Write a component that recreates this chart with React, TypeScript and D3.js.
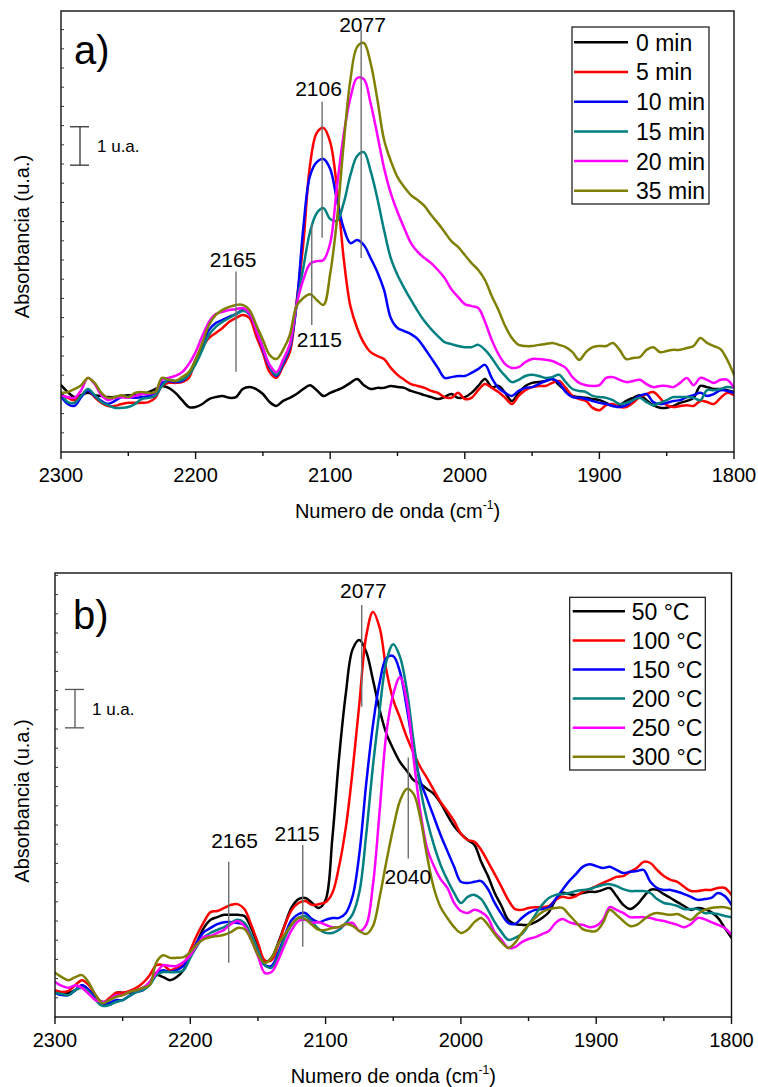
import React from "react";
import * as d3 from "d3";

// ---------- data ----------
const wavenumbers = [
  2300, 2295, 2290, 2285, 2280, 2275, 2270, 2265, 2260, 2255,
  2250, 2245, 2240, 2235, 2230, 2225, 2220, 2215, 2210, 2205,
  2200, 2195, 2190, 2185, 2180, 2175, 2170, 2165, 2160, 2155,
  2150, 2145, 2140, 2135, 2130, 2125, 2120, 2115, 2110, 2105,
  2100, 2095, 2090, 2085, 2080, 2075, 2070, 2065, 2060, 2055,
  2050, 2045, 2040, 2035, 2030, 2025, 2020, 2015, 2010, 2005,
  2000, 1995, 1990, 1985, 1980, 1975, 1970, 1965, 1960, 1955,
  1950, 1945, 1940, 1935, 1930, 1925, 1920, 1915, 1910, 1905,
  1900, 1895, 1890, 1885, 1880, 1875, 1870, 1865, 1860, 1855,
  1850, 1845, 1840, 1835, 1830, 1825, 1820, 1815, 1810, 1805,
  1800,
];

const labelsA = ["0 min", "5 min", "10 min", "15 min", "20 min", "35 min"];
const labelsB = ["50 °C", "100 °C", "150 °C", "200 °C", "250 °C", "300 °C"];
const seriesColors = ["#000000", "#ff0000", "#0000ff", "#008080", "#ff00ff", "#808000"];

const xMajorTicks = [2300, 2200, 2100, 2000, 1900, 1800];
const xMinorTicks = [2250, 2150, 2050, 1950, 1850];

// panel a) absorbance (u.a.)
const absA0 = [
  1.74, 1.56, 1.43, 1.48, 1.54, 1.48, 1.46, 1.43, 1.43, 1.46,
  1.48, 1.48, 1.51, 1.56, 1.64, 1.72, 1.67, 1.54, 1.35, 1.17,
  1.17, 1.25, 1.38, 1.43, 1.46, 1.41, 1.43, 1.64, 1.69, 1.64,
  1.51, 1.30, 1.20, 1.33, 1.41, 1.51, 1.64, 1.74, 1.61, 1.46,
  1.54, 1.61, 1.69, 1.80, 1.90, 1.74, 1.64, 1.67, 1.67, 1.72,
  1.69, 1.67, 1.59, 1.54, 1.48, 1.43, 1.38, 1.43, 1.51, 1.41,
  1.43, 1.54, 1.72, 1.90, 1.69, 1.72, 1.54, 1.33, 1.54, 1.72,
  1.80, 1.82, 1.85, 1.90, 1.74, 1.59, 1.46, 1.43, 1.41, 1.38,
  1.35, 1.28, 1.20, 1.22, 1.33, 1.41, 1.48, 1.35, 1.22, 1.15,
  1.15, 1.20, 1.28, 1.33, 1.41, 1.72, 1.69, 1.64, 1.64, 1.61,
  1.56,
];
const absA5 = [
  1.48, 1.41, 1.35, 1.46, 1.61, 1.43, 1.28, 1.20, 1.20, 1.25,
  1.28, 1.28, 1.28, 1.30, 1.41, 1.72, 1.80, 1.80, 1.82, 1.93,
  2.40, 2.73, 2.97, 3.10, 3.23, 3.39, 3.49, 3.57, 3.49, 3.02,
  2.58, 2.08, 1.93, 2.24, 2.60, 3.91, 5.42, 7.47, 8.31, 8.44,
  8.07, 6.88, 5.05, 3.80, 3.23, 2.84, 2.60, 2.50, 2.42, 2.19,
  2.01, 1.88, 1.77, 1.72, 1.67, 1.59, 1.54, 1.43, 1.41, 1.54,
  1.38, 1.41, 1.61, 1.77, 1.67, 1.56, 1.41, 1.25, 1.46, 1.61,
  1.69, 1.72, 1.72, 1.80, 1.85, 1.67, 1.46, 1.38, 1.33, 1.15,
  1.09, 1.22, 1.25, 1.17, 1.17, 1.28, 1.43, 1.51, 1.56, 1.41,
  1.22, 1.17, 1.20, 1.22, 1.20, 1.33, 1.30, 1.25, 1.41, 1.54,
  1.48,
];
const absA10 = [
  1.46, 1.25, 1.20, 1.43, 1.61, 1.46, 1.33, 1.25, 1.33, 1.43,
  1.43, 1.41, 1.43, 1.46, 1.54, 1.80, 1.85, 1.82, 1.85, 2.03,
  2.40, 2.76, 3.18, 3.36, 3.44, 3.52, 3.59, 3.70, 3.59, 3.18,
  2.66, 2.21, 1.98, 2.29, 2.71, 3.83, 5.83, 7.19, 7.55, 7.63,
  7.37, 6.56, 5.83, 5.44, 5.52, 5.39, 5.05, 4.69, 4.22, 3.49,
  3.23, 3.15, 3.07, 2.94, 2.71, 2.45, 2.19, 1.93, 1.95, 1.98,
  1.98, 2.06, 2.16, 2.27, 1.93, 1.67, 1.54, 1.46, 1.59, 1.67,
  1.69, 1.77, 1.85, 1.90, 1.80, 1.56, 1.43, 1.41, 1.38, 1.33,
  1.28, 1.25, 1.20, 1.17, 1.22, 1.35, 1.46, 1.51, 1.30, 1.25,
  1.28, 1.33, 1.35, 1.43, 1.48, 1.54, 1.46, 1.51, 1.61, 1.59,
  1.54,
];
const absA15 = [
  1.54, 1.30, 1.28, 1.46, 1.64, 1.48, 1.30, 1.22, 1.15, 1.15,
  1.17, 1.25, 1.38, 1.41, 1.46, 1.72, 1.88, 1.85, 1.88, 2.01,
  2.29, 2.66, 3.05, 3.26, 3.39, 3.49, 3.59, 3.67, 3.62, 3.23,
  2.71, 2.24, 2.01, 2.34, 2.76, 3.83, 4.79, 5.73, 6.22, 6.35,
  6.07, 6.02, 6.48, 7.21, 7.71, 7.81, 7.32, 6.61, 5.78, 5.05,
  4.61, 4.27, 3.96, 3.67, 3.41, 3.20, 3.02, 2.86, 2.81, 2.76,
  2.73, 2.73, 2.79, 2.66, 2.45, 2.19, 1.98, 1.82, 1.88, 1.98,
  2.01, 1.98, 1.93, 1.95, 2.01, 1.82, 1.64, 1.59, 1.56, 1.46,
  1.43, 1.41, 1.35, 1.25, 1.28, 1.35, 1.41, 1.30, 1.22, 1.28,
  1.35, 1.43, 1.43, 1.43, 1.41, 1.35, 1.61, 1.61, 1.64, 1.69,
  1.67,
];
const absA20 = [
  1.48, 1.43, 1.41, 1.61, 1.93, 1.77, 1.48, 1.35, 1.41, 1.43,
  1.41, 1.46, 1.51, 1.51, 1.56, 1.88, 1.93, 1.98, 2.08, 2.29,
  2.60, 3.02, 3.39, 3.59, 3.65, 3.70, 3.72, 3.75, 3.62, 3.18,
  2.71, 2.27, 2.08, 2.40, 2.81, 3.83, 4.48, 4.90, 4.97, 5.00,
  5.44, 6.90, 8.26, 9.22, 9.74, 9.71, 9.09, 8.26, 7.40, 6.74,
  6.25, 5.83, 5.44, 5.21, 5.05, 4.92, 4.74, 4.53, 4.24, 4.04,
  3.85, 3.80, 3.75, 3.39, 2.92, 2.55, 2.29, 2.19, 2.21, 2.34,
  2.42, 2.42, 2.40, 2.37, 2.29, 2.19, 1.95, 1.80, 1.74, 1.72,
  1.74, 1.93, 1.95, 1.88, 1.82, 1.85, 1.88, 1.77, 1.69, 1.72,
  1.72, 1.69, 1.80, 1.93, 1.74, 1.93, 1.88, 1.80, 1.88, 1.88,
  1.67,
];
const absA35 = [
  1.54, 1.56, 1.64, 1.74, 1.93, 1.80, 1.54, 1.41, 1.43, 1.48,
  1.43, 1.54, 1.56, 1.54, 1.56, 1.93, 1.88, 1.85, 1.95, 2.08,
  2.40, 2.84, 3.31, 3.57, 3.70, 3.78, 3.83, 3.83, 3.70, 3.31,
  2.92, 2.53, 2.42, 2.66, 3.05, 3.80, 4.01, 4.11, 3.96, 3.83,
  4.64, 6.04, 8.02, 9.69, 10.55, 10.65, 10.13, 9.19, 8.13, 7.58,
  7.16, 6.90, 6.69, 6.56, 6.41, 6.17, 5.96, 5.73, 5.49, 5.34,
  5.13, 4.92, 4.74, 4.48, 4.06, 3.70, 3.28, 2.97, 2.79, 2.76,
  2.76, 2.79, 2.81, 2.84, 2.79, 2.73, 2.60, 2.40, 2.60, 2.73,
  2.76, 2.76, 2.84, 2.66, 2.42, 2.45, 2.47, 2.66, 2.73, 2.60,
  2.63, 2.66, 2.66, 2.71, 2.76, 2.97, 2.84, 2.76, 2.68, 2.40,
  2.01,
];

// panel b) absorbance (u.a.)
const absB50 = [
  0.65, 0.63, 0.63, 0.70, 0.83, 0.70, 0.52, 0.39, 0.44, 0.63,
  0.63, 0.63, 0.68, 0.76, 0.89, 1.09, 1.04, 0.96, 1.04, 1.22,
  1.61, 1.95, 2.32, 2.53, 2.60, 2.66, 2.66, 2.66, 2.63, 2.32,
  1.88, 1.43, 1.54, 1.93, 2.42, 2.86, 3.07, 3.10, 2.97, 2.84,
  3.05, 4.66, 6.77, 8.44, 9.58, 9.82, 9.51, 8.78, 7.99, 7.37,
  6.98, 6.64, 6.41, 6.17, 6.07, 5.94, 5.81, 5.57, 5.26, 4.97,
  4.77, 4.61, 4.48, 4.04, 3.67, 3.23, 2.89, 2.53, 2.42, 2.40,
  2.40, 2.47, 2.58, 2.73, 3.05, 3.23, 3.20, 3.18, 3.23, 3.26,
  3.26, 3.31, 3.36, 3.15, 2.92, 2.81, 2.92, 3.13, 3.31, 3.31,
  3.20, 3.10, 2.99, 2.89, 2.79, 2.84, 2.81, 2.73, 2.58, 2.32,
  2.06,
];
const absB100 = [
  0.70, 0.65, 0.68, 0.83, 0.96, 0.83, 0.57, 0.36, 0.49, 0.63,
  0.63, 0.68, 0.76, 0.89, 1.09, 1.35, 1.35, 1.22, 1.28, 1.38,
  1.74, 2.14, 2.47, 2.73, 2.76, 2.84, 2.92, 2.94, 2.81, 2.40,
  1.93, 1.48, 1.48, 1.88, 2.40, 2.79, 2.97, 3.02, 2.92, 2.94,
  2.99, 3.23, 3.93, 4.95, 6.43, 8.18, 9.92, 10.55, 10.13, 9.01,
  8.26, 7.79, 7.29, 6.88, 6.51, 6.22, 5.91, 5.60, 5.36, 5.10,
  4.77, 4.61, 4.56, 4.35, 4.04, 3.72, 3.39, 3.05, 2.81, 2.79,
  2.84, 2.86, 2.86, 2.89, 3.05, 3.13, 3.10, 3.15, 3.26, 3.33,
  3.41, 3.49, 3.57, 3.65, 3.67, 3.78, 3.88, 4.04, 4.01, 3.83,
  3.67, 3.57, 3.52, 3.39, 3.28, 3.28, 3.31, 3.31, 3.36, 3.36,
  3.18,
];
const absB150 = [
  0.63, 0.57, 0.57, 0.70, 0.83, 0.70, 0.49, 0.31, 0.36, 0.44,
  0.44, 0.55, 0.65, 0.70, 0.91, 1.15, 1.22, 1.17, 1.22, 1.33,
  1.61, 1.95, 2.21, 2.32, 2.42, 2.47, 2.47, 2.45, 2.40, 2.08,
  1.67, 1.35, 1.33, 1.67, 2.14, 2.53, 2.68, 2.71, 2.55, 2.47,
  2.53, 2.58, 2.58, 2.71, 3.15, 4.27, 6.07, 7.60, 8.72, 9.35,
  9.40, 8.98, 8.05, 6.98, 6.15, 5.68, 5.21, 4.74, 4.32, 3.91,
  3.52, 3.49, 3.52, 3.54, 3.33, 2.97, 2.68, 2.45, 2.42, 2.58,
  2.71, 2.79, 2.81, 2.86, 3.07, 3.31, 3.54, 3.72, 3.91, 3.98,
  3.93, 3.88, 3.91, 3.83, 3.75, 3.78, 3.80, 3.83, 3.52, 3.36,
  3.31, 3.31, 3.26, 3.20, 3.13, 3.05, 3.07, 3.10, 3.23, 3.15,
  2.92,
];
const absB200 = [
  0.63, 0.60, 0.57, 0.70, 0.76, 0.65, 0.44, 0.29, 0.31, 0.39,
  0.44, 0.55, 0.65, 0.70, 0.83, 1.09, 1.17, 1.17, 1.17, 1.22,
  1.54, 1.85, 2.08, 2.19, 2.27, 2.34, 2.45, 2.53, 2.45, 2.14,
  1.74, 1.35, 1.28, 1.59, 2.08, 2.40, 2.58, 2.63, 2.47, 2.29,
  2.19, 2.19, 2.27, 2.45, 2.68, 3.26, 4.74, 6.54, 8.02, 9.27,
  9.71, 9.38, 8.52, 7.19, 5.96, 5.13, 4.48, 3.96, 3.57, 3.23,
  2.97, 3.13, 3.18, 3.07, 2.79, 2.47, 2.21, 2.01, 2.06, 2.16,
  2.40, 2.66, 2.92, 3.10, 3.18, 3.20, 3.23, 3.28, 3.31, 3.33,
  3.39, 3.44, 3.46, 3.41, 3.33, 3.28, 3.28, 3.28, 3.23, 3.07,
  2.97, 2.94, 2.89, 2.81, 2.81, 2.81, 2.71, 2.71, 2.68, 2.63,
  2.60,
];
const absB250 = [
  0.91, 0.81, 0.76, 0.83, 0.76, 0.60, 0.44, 0.39, 0.44, 0.57,
  0.57, 0.65, 0.70, 0.76, 0.91, 1.15, 1.35, 1.33, 1.33, 1.43,
  1.61, 1.88, 2.08, 2.11, 2.19, 2.27, 2.42, 2.50, 2.37, 2.01,
  1.59, 1.15, 1.17, 1.48, 1.90, 2.27, 2.50, 2.53, 2.45, 2.47,
  2.40, 2.34, 2.34, 2.42, 2.45, 2.24, 2.40, 3.44, 5.39, 7.42,
  8.41, 8.85, 8.23, 6.74, 5.36, 4.40, 3.93, 3.59, 3.36, 2.97,
  2.76, 2.71, 2.79, 2.73, 2.58, 2.21, 2.01, 1.80, 1.82, 1.95,
  2.03, 2.08, 2.16, 2.24, 2.45, 2.55, 2.47, 2.42, 2.40, 2.34,
  2.37, 2.53, 2.86, 2.79, 2.71, 2.60, 2.60, 2.60, 2.58, 2.53,
  2.50, 2.45, 2.40, 2.34, 2.42, 2.58, 2.55, 2.47, 2.40, 2.32,
  2.14,
];
const absB300 = [
  1.15, 1.04, 0.96, 1.04, 1.09, 0.89, 0.57, 0.36, 0.44, 0.52,
  0.57, 0.65, 0.70, 0.76, 0.83, 1.43, 1.61, 1.54, 1.54, 1.56,
  1.69, 1.90, 2.03, 2.08, 2.11, 2.14, 2.21, 2.32, 2.29, 2.01,
  1.61, 1.41, 1.54, 1.90, 2.16, 2.42, 2.58, 2.55, 2.40, 2.27,
  2.27, 2.32, 2.34, 2.42, 2.37, 2.24, 2.16, 2.37, 3.13, 4.06,
  4.92, 5.63, 5.94, 5.81, 5.18, 4.19, 3.36, 2.86, 2.58, 2.34,
  2.19, 2.27, 2.47, 2.58, 2.40, 2.16, 1.95, 1.80, 1.93, 2.19,
  2.40, 2.58, 2.73, 2.81, 2.84, 2.84, 2.66, 2.47, 2.29, 2.24,
  2.24, 2.45, 2.79, 2.66, 2.50, 2.37, 2.40, 2.53, 2.66, 2.71,
  2.68, 2.66, 2.68, 2.60, 2.53, 2.68, 2.79, 2.84, 2.86, 2.86,
  2.81,
];

// peak annotations: label, wavenumber of marker line, marker extent (u.a.), label anchor
const annotationsA = [
  { label: "2077", w: 2077, v0: 5.05, v1: 10.99, tw: 2076, tv: 10.94 },
  { label: "2106", w: 2106, v0: 5.58, v1: 9.12, tw: 2108.7, tv: 9.26 },
  { label: "2165", w: 2170, v0: 2.09, v1: 4.7, tw: 2172.2, tv: 4.82 },
  { label: "2115", w: 2113.7, v0: 3.31, v1: 5.93, tw: 2108.1, tv: 2.74 },
];
const annotationsB = [
  { label: "2077", w: 2073.3, v0: 8.08, v1: 10.73, tw: 2072.1, tv: 10.9 },
  { label: "2165", w: 2171.6, v0: 1.41, v1: 4.04, tw: 2167.3, tv: 4.39 },
  { label: "2115", w: 2116.9, v0: 1.83, v1: 4.48, tw: 2121.1, tv: 4.58 },
  { label: "2040", w: 2038.9, v0: 4.13, v1: 6.76, tw: 2039.2, tv: 3.46 },
];

// ---------- layout ----------
const FONT = "'Liberation Sans', Arial, Helvetica, sans-serif";

type Ann = { label: string; w: number; v0: number; v1: number; tw: number; tv: number };
type PanelCfg = {
  id: string;
  tag: string;
  left: number;
  right: number;
  top: number;
  bottom: number;
  yMax: number;
  series: number[][];
  labels: string[];
  annotations: Ann[];
  barX: number;
  barV0: number;
  barColor: string;
  lineColor: string;
  legend: { x: number; y: number; w: number; h: number; row0: number; step: number; lx0: number; lx1: number; tx: number };
  tagX: number;
  tagY: number;
  yTitleY: number;
};

const panelA: PanelCfg = {
  id: "a",
  tag: "a)",
  left: 61,
  right: 734,
  top: 11,
  bottom: 452,
  yMax: 441 / 38.4,
  series: [absA0, absA5, absA10, absA15, absA20, absA35],
  labels: labelsA,
  annotations: annotationsA,
  barX: 80,
  barV0: 7.47,
  barColor: "#333",
  lineColor: "#6e6e6e",
  legend: { x: 572, y: 27, w: 137, h: 177, row0: 42.3, step: 29.7, lx0: 574, lx1: 628, tx: 636 },
  tagX: 74,
  tagY: 64,
  yTitleY: 236.5,
};

const panelB: PanelCfg = {
  id: "b",
  tag: "b)",
  left: 55,
  right: 731.5,
  top: 573,
  bottom: 1017,
  yMax: 444 / 38.4,
  series: [absB50, absB100, absB150, absB200, absB250, absB300],
  labels: labelsB,
  annotations: annotationsB,
  barX: 75,
  barV0: 7.53,
  barColor: "#555",
  lineColor: "#6e6e6e",
  legend: { x: 569.7, y: 597.3, w: 135.6, h: 172.7, row0: 611.3, step: 29.1, lx0: 572.7, lx1: 625, tx: 631.7 },
  tagX: 73,
  tagY: 629.3,
  yTitleY: 801,
};

function Panel({ cfg }: { cfg: PanelCfg }) {
  const x = d3.scaleLinear().domain([2300, 1800]).range([cfg.left, cfg.right]);
  const y = d3.scaleLinear().domain([0, cfg.yMax]).range([cfg.bottom, cfg.top]);
  const line = d3
    .line<number>()
    .x((_, i) => x(wavenumbers[i]))
    .y((d) => y(d))
    .curve(d3.curveCatmullRom.alpha(0.5));
  const yTicks = d3.range(0.5, cfg.yMax, 0.5);
  const clipId = `clip-${cfg.id}`;
  const lg = cfg.legend;
  const midX = (cfg.left + cfg.right) / 2;

  return (
    <g>
      <defs>
        <clipPath id={clipId}>
          <rect x={cfg.left} y={cfg.top} width={cfg.right - cfg.left} height={cfg.bottom - cfg.top} />
        </clipPath>
      </defs>

      {/* curves */}
      <g clipPath={`url(#${clipId})`}>
        {cfg.series.map((s, i) => (
          <path
            key={i}
            d={line(s) || ""}
            fill="none"
            stroke={seriesColors[i]}
            strokeWidth={2.5}
            strokeLinejoin="round"
            strokeLinecap="round"
          />
        ))}
      </g>

      {/* peak markers */}
      {cfg.annotations.map((a) => (
        <g key={a.label}>
          <line x1={x(a.w)} x2={x(a.w)} y1={y(a.v0)} y2={y(a.v1)} stroke={cfg.lineColor} strokeWidth={1.4} />
          <text x={x(a.tw)} y={y(a.tv)} textAnchor="middle" fontFamily={FONT} fontSize={21} fill="#000">
            {a.label}
          </text>
        </g>
      ))}

      {/* frame */}
      <rect
        x={cfg.left}
        y={cfg.top}
        width={cfg.right - cfg.left}
        height={cfg.bottom - cfg.top}
        fill="none"
        stroke="#111"
        strokeWidth={1.4}
      />

      {/* y ticks (inward, no labels) */}
      {yTicks.map((t) => (
        <line key={t} x1={cfg.left} x2={cfg.left + 3} y1={y(t)} y2={y(t)} stroke="#333" strokeWidth={1} />
      ))}

      {/* x ticks */}
      {xMajorTicks.map((t) => (
        <g key={t}>
          <line x1={x(t)} x2={x(t)} y1={cfg.bottom} y2={cfg.bottom + 7} stroke="#111" strokeWidth={1.4} />
          <text x={x(t)} y={cfg.bottom + 29.5} textAnchor="middle" fontFamily={FONT} fontSize={20} fill="#000">
            {t}
          </text>
        </g>
      ))}
      {xMinorTicks.map((t) => (
        <line key={t} x1={x(t)} x2={x(t)} y1={cfg.bottom} y2={cfg.bottom + 4} stroke="#111" strokeWidth={1.4} />
      ))}

      {/* axis titles */}
      <text x={midX} y={cfg.bottom + 66.3} textAnchor="middle" fontFamily={FONT} fontSize={20} fill="#000">
        Numero de onda (cm
        <tspan fontSize={12} dy={-9}>
          -1
        </tspan>
        <tspan dy={9}>)</tspan>
      </text>
      <text
        transform={`translate(29,${cfg.yTitleY}) rotate(-90)`}
        textAnchor="middle"
        fontFamily={FONT}
        fontSize={20}
        fill="#000"
      >
        Absorbancia (u.a.)
      </text>

      {/* panel tag */}
      <text x={cfg.tagX} y={cfg.tagY} fontFamily={FONT} fontSize={40} fill="#000">
        {cfg.tag}
      </text>

      {/* 1 u.a. scale bar */}
      <g stroke={cfg.barColor} strokeWidth={1.3}>
        <line x1={cfg.barX} x2={cfg.barX} y1={y(cfg.barV0)} y2={y(cfg.barV0 + 1)} />
        <line x1={cfg.barX - 10} x2={cfg.barX + 9} y1={y(cfg.barV0)} y2={y(cfg.barV0)} />
        <line x1={cfg.barX - 10} x2={cfg.barX + 9} y1={y(cfg.barV0 + 1)} y2={y(cfg.barV0 + 1)} />
      </g>
      <text
        x={cfg.barX + 17}
        y={(y(cfg.barV0) + y(cfg.barV0 + 1)) / 2 + 6}
        fontFamily={FONT}
        fontSize={17}
        fill="#000"
      >
        1 u.a.
      </text>

      {/* legend */}
      <rect x={lg.x} y={lg.y} width={lg.w} height={lg.h} fill="#fff" stroke="#111" strokeWidth={1.2} />
      {cfg.labels.map((l, i) => {
        const ly = lg.row0 + i * lg.step;
        return (
          <g key={l}>
            <line x1={lg.lx0} x2={lg.lx1} y1={ly} y2={ly} stroke={seriesColors[i]} strokeWidth={2.5} />
            <text x={lg.tx} y={ly + 8.4} fontFamily={FONT} fontSize={23} fill="#000">
              {l}
            </text>
          </g>
        );
      })}
    </g>
  );
}

export default function App() {
  return (
    <svg
      width={758}
      height={1087}
      viewBox="0 0 758 1087"
      style={{ position: "absolute", left: 0, top: 0, background: "#fff" }}
    >
      <rect x={0} y={0} width={758} height={1087} fill="#fff" />
      <Panel cfg={panelA} />
      <Panel cfg={panelB} />
    </svg>
  );
}
